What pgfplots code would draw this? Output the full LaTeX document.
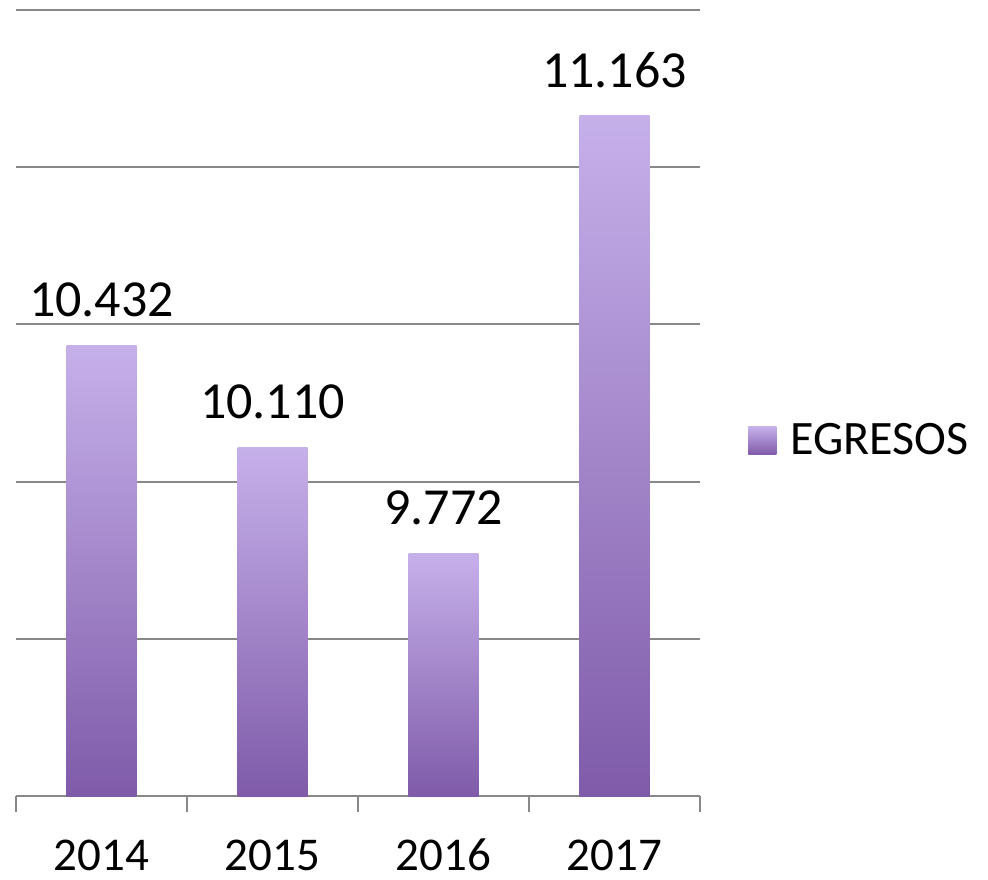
\documentclass[border=0pt]{standalone}
\usepackage{pgfplots}
\pgfplotsset{compat=1.18}
\usepackage{fontspec}
\setmainfont{Carlito}
\definecolor{barlight}{HTML}{C6B0EA}
\definecolor{barmid}{HTML}{A88ECF}
\definecolor{bardark}{HTML}{7F5BA9}
\definecolor{gridgray}{HTML}{888888}
\pgfplotsset{
    egreso/.style={ybar, bar width=35pt, bar shift=0pt, draw=none,
        top color=barlight, middle color=barmid, bottom color=bardark,
        point meta=rawy,
        nodes near coords={\pgfmathprintnumber[fixed,precision=0,1000 sep={.}]{\pgfplotspointmeta}},
        nodes near coords style={font=\fontsize{26}{30}\selectfont, black,
            anchor=south, inner sep=0pt, yshift=14pt}},
}
\begin{document}
\begin{tikzpicture}
\begin{axis}[
    name=ax,
    scale only axis,
    width=342pt, height=393pt,
    xmin=-0.5, xmax=3.5,
    ymin=0, ymax=2500,
    y filter/.expression={y-9000},
    xtick={0,1,2,3},
    xticklabels={2014,2015,2016,2017},
    minor xtick={-0.5,0.5,1.5,2.5,3.5},
    major x tick style={draw=none},
    minor tick length=8pt,
    tick align=outside,
    xtick pos=bottom,
    x tick style={gridgray, line width=1pt},
    ytick={0,500,1000,1500,2000,2500},
    yticklabels={},
    major tick length=0pt,
    ytick style={draw=none},
    ymajorgrids,
    grid style={gridgray, line width=1pt},
    axis line style={draw=none},
    /pgf/number format/assume math mode=true,
    ticklabel style={font=\fontsize{23.5}{28}\selectfont},
    xticklabel style={inner sep=0pt, anchor=base, yshift=-37pt},
    legend style={at={(1.07,0.452)}, anchor=west, draw=none, fill=none,
        inner sep=0pt, font=\fontsize{24}{28}\selectfont,
        /tikz/every odd column/.append style={column sep=5pt}},
    legend image code/.code={
        \shade[top color=barlight, bottom color=bardark, draw=none]
            (0pt,-7pt) rectangle (14pt,7pt);},
]
\addplot[egreso] coordinates {(0,10432)};
\addlegendentry{EGRESOS}
\addplot[egreso, forget plot] coordinates {(1,10110)};
\addplot[egreso, forget plot] coordinates {(2,9772)};
\addplot[egreso, forget plot] coordinates {(3,11163)};
\end{axis}
\pgfresetboundingbox
\path ([shift={(-8pt,-41.5pt)}]ax.south west) rectangle ([shift={(144pt,5pt)}]ax.north east);
\end{tikzpicture}
\end{document}
